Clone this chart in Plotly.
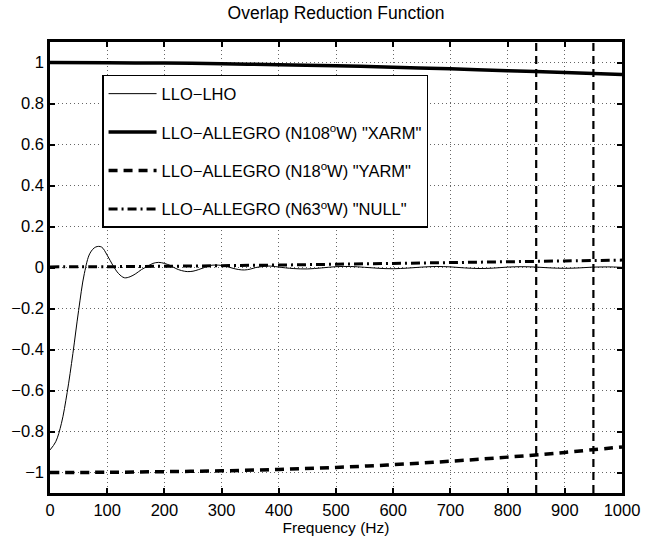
import plotly.graph_objects as go

# ---- data ----
freq_lho = [0, 10, 20, 30, 40, 50, 60, 70, 80, 90, 100, 110, 120, 130, 140, 150, 160, 170, 180, 190,
            200, 210, 220, 230, 240, 250, 260, 270, 280, 290, 300, 310, 320, 330, 340, 350, 360, 370,
            380, 390, 400, 425, 450, 475, 500, 525, 550, 575, 600, 625, 650, 675, 700, 725, 750, 775,
            800, 825, 850, 875, 900, 925, 950, 975, 1000]
orf_lho = [-0.89, -0.85, -0.76, -0.61, -0.42, -0.21, -0.03, 0.07, 0.10, 0.10, 0.06, 0.01, -0.03, -0.05,
           -0.045, -0.03, -0.01, 0.005, 0.02, 0.025, 0.02, 0.01, -0.005, -0.015, -0.02, -0.018, -0.01,
           0.0, 0.01, 0.012, 0.01, 0.004, -0.004, -0.01, -0.012, -0.008, 0.0, 0.004, 0.007, 0.006,
           0.002, -0.005, -0.007, -0.002, 0.004, 0.005, 0.001, -0.004, -0.006, -0.003, 0.002, 0.005,
           0.003, -0.002, -0.005, -0.003, 0.002, 0.004, 0.002, -0.002, -0.004, -0.002, 0.002, 0.003, 0.001]

freq_allegro = [0, 100, 200, 300, 400, 500, 600, 700, 800, 900, 1000]
orf_xarm = [1.0, 0.999, 0.997, 0.994, 0.989, 0.984, 0.977, 0.969, 0.960, 0.951, 0.941]
orf_yarm = [-1.0, -0.999, -0.996, -0.992, -0.985, -0.975, -0.962, -0.945, -0.925, -0.902, -0.875]
orf_null = [0.003, 0.004, 0.006, 0.009, 0.012, 0.016, 0.020, 0.024, 0.028, 0.032, 0.036]

marker_freqs = [850, 950]

names = ["LLO\u2212LHO",
         "LLO\u2212ALLEGRO (N108<sup>o</sup>W) \"XARM\"",
         "LLO\u2212ALLEGRO (N18<sup>o</sup>W) \"YARM\"",
         "LLO\u2212ALLEGRO (N63<sup>o</sup>W) \"NULL\""]

x_ticks = list(range(0, 1001, 100))
y_ticks = [-1, -0.8, -0.6, -0.4, -0.2, 0, 0.2, 0.4, 0.6, 0.8, 1]

FONT = "Liberation Sans, Arial, Helvetica, sans-serif"

fig = go.Figure()
fig.add_trace(go.Scatter(x=freq_lho, y=orf_lho, mode="lines", name=names[0], legendgroup="a",
                         line=dict(color="black", width=1, shape="spline")))
fig.add_trace(go.Scatter(x=freq_allegro, y=orf_xarm, mode="lines", name=names[1], legendgroup="b",
                         line=dict(color="black", width=3.5, shape="spline")))
fig.add_trace(go.Scatter(x=freq_allegro, y=orf_yarm, mode="lines", name=names[2], legendgroup="c",
                         line=dict(color="black", width=3.5, dash="9px,6px", shape="spline")))
fig.add_trace(go.Scatter(x=freq_allegro, y=orf_null, mode="lines", name=names[3], legendgroup="d",
                         line=dict(color="black", width=3, dash="9px,4px,2px,4px", shape="spline")))

for f in marker_freqs:
    fig.add_vline(x=f, line=dict(color="black", width=2.2, dash="8px,5px"))

axis_common = dict(showline=True, linecolor="black", linewidth=2.5, mirror="allticks",
                   ticks="inside", ticklen=5, tickwidth=1.5, tickcolor="black",
                   showgrid=True, gridcolor="#666666", gridwidth=1, griddash="1px,3px",
                   zeroline=False, automargin=False,
                   tickfont=dict(family=FONT, size=16.5, color="black"))

fig.update_xaxes(range=[0, 1000], tickvals=x_ticks,
                 title=dict(text="Frequency (Hz)", font=dict(family=FONT, size=15.5, color="black"),
                            standoff=0),
                 **axis_common)
fig.update_yaxes(range=[-1.1, 1.1], tickvals=y_ticks,
                 ticktext=[("\u2212" + f"{abs(v):g}") if v < 0 else f"{v:g}" for v in y_ticks],
                 **axis_common)

fig.update_layout(
    width=655, height=536,
    margin=dict(l=50, r=33, t=42, b=43),
    paper_bgcolor="white", plot_bgcolor="white",
    title=dict(text="Overlap Reduction Function", x=0.5, xref="paper", y=0.976, yref="container",
               yanchor="middle", xanchor="center",
               font=dict(family=FONT, size=17.5, color="black")),
    legend=dict(x=0.091, y=0.927, xanchor="left", yanchor="top",
                bgcolor="white", bordercolor="black", borderwidth=1.5,
                font=dict(family=FONT, size=16.5, color="black"),
                itemwidth=48, tracegroupgap=14, traceorder="grouped"),
    showlegend=True,
)

fig.write_html("out.html", config={"displayModeBar": False},
               post_script="document.body.style.margin='0px';")
